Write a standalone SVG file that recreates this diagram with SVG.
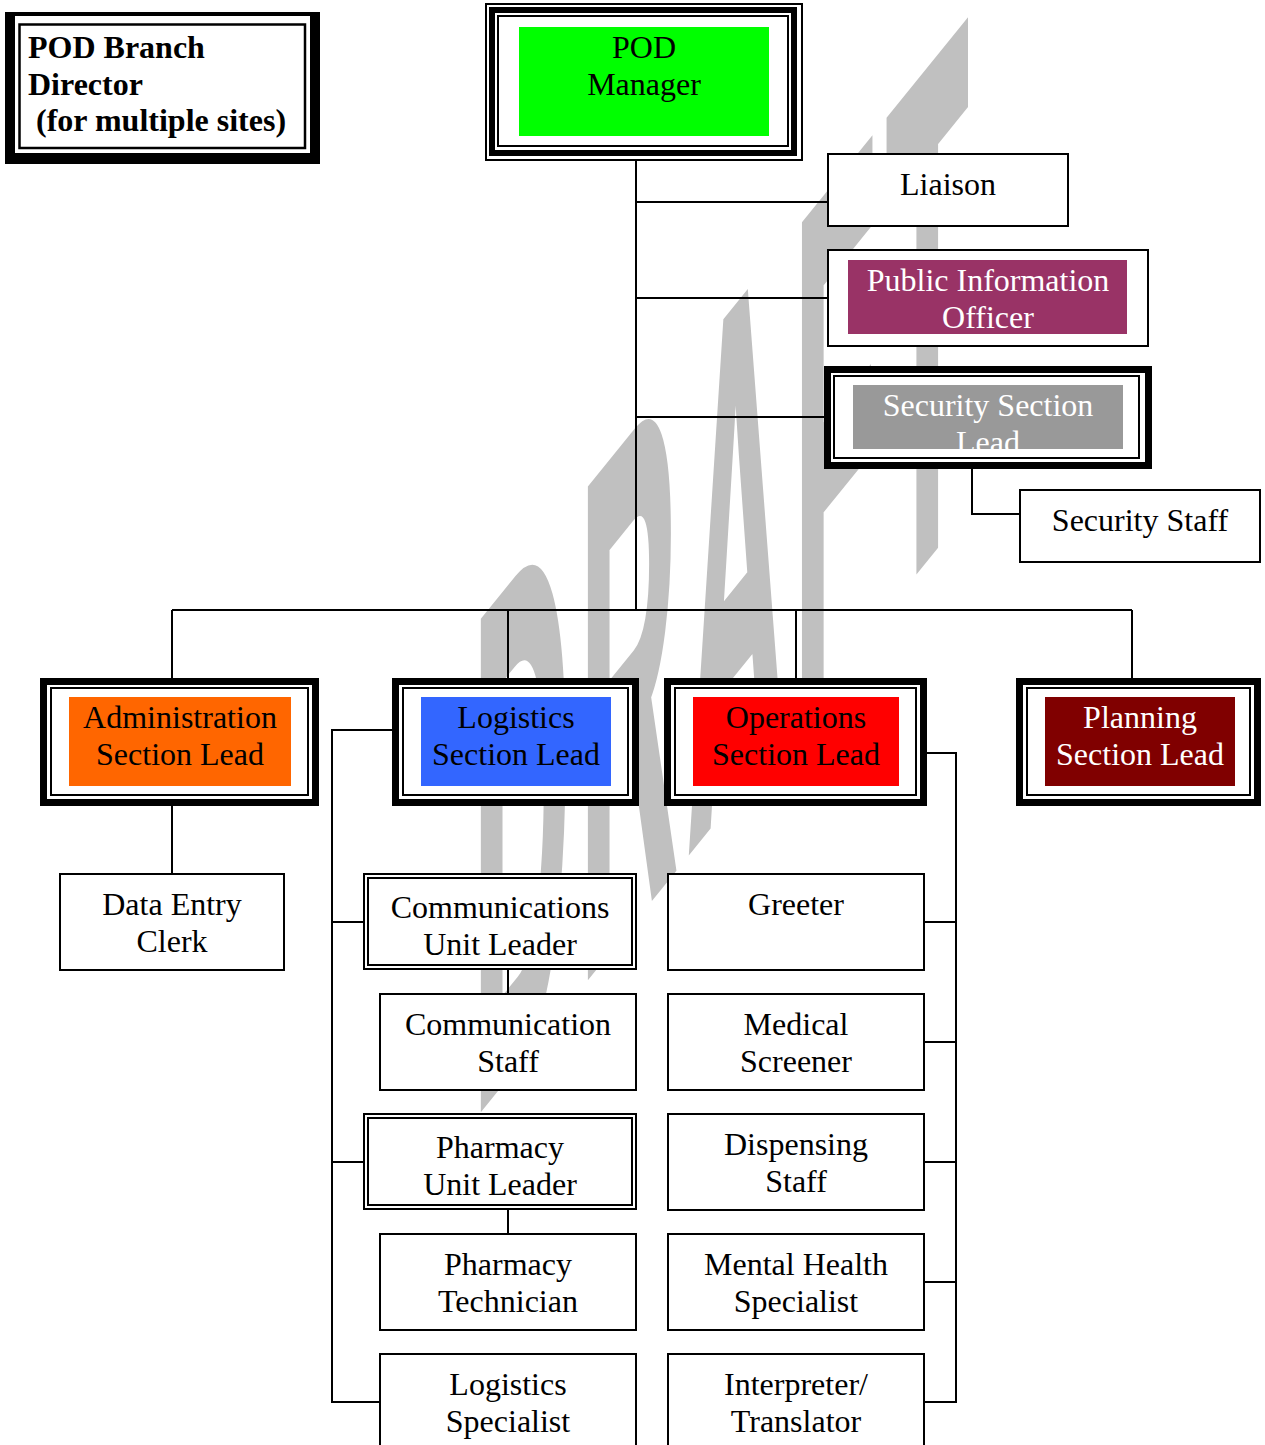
<svg xmlns="http://www.w3.org/2000/svg" width="1265" height="1445" viewBox="0 0 1265 1445">
<defs>
<style>
text{font-family:"Liberation Serif","Times New Roman",serif;font-size:32px;text-anchor:middle;fill:#000}
.w{fill:#fff}
.b{font-weight:bold;text-anchor:start}
.box{fill:#fff;stroke:#000;stroke-width:2}
.thin{fill:none;stroke:#000;stroke-width:2}
.thick{fill:#fff;stroke:#000;stroke-width:7}
.mid{fill:none;stroke:#000;stroke-width:6}
.con{fill:none;stroke:#000;stroke-width:2}
.wm{font-family:"Liberation Sans",Arial,sans-serif;font-weight:bold;font-size:700px;fill:#c0c0c0;stroke:#c0c0c0;stroke-width:12;text-anchor:start}
</style>
<clipPath id="secclip"><rect x="853" y="385" width="270" height="64"/></clipPath>
</defs>
<rect width="1265" height="1445" fill="#fff"/>
<g id="watermark">
<text class="wm" letter-spacing="52" transform="translate(473,1116) skewY(-51) scale(0.192,1)">DRAFT</text>
</g>
<g id="connectors">
<path class="con" d="M636,160V610M636,202H828M636,298H828M636,417H826M972,469V514H1020"/>
<path class="con" d="M172,610H1132M172,610V680M508,610V680M796,610V680M1132,610V680"/>
<path class="con" d="M172,806V874M392,730H332V1402H380M332,922H363M332,1162H363M508,970V993M508,1210V1233"/>
<path class="con" d="M927,753H956V1402H924M956,922H924M956,1042H924M956,1162H924M956,1282H924"/>
</g>
<g id="branch-director">
<rect x="5" y="12" width="315" height="152" fill="#000"/>
<rect x="15" y="16" width="295" height="137" fill="#fff"/>
<rect x="19.5" y="24.5" width="285.5" height="123.5" fill="none" stroke="#000" stroke-width="2.5"/>
<text class="b" x="28" y="58">POD Branch</text>
<text class="b" x="28" y="95">Director</text>
<text class="b" x="36" y="131">(for multiple sites)</text>
</g>
<g id="pod-manager">
<rect class="box" x="486" y="4" width="316" height="156"/>
<rect class="mid" x="492" y="10" width="302" height="143"/>
<rect class="thin" x="498" y="16" width="290" height="130"/>
<rect x="519" y="27" width="250" height="109" fill="#00ff00"/>
<text x="644" y="58">POD</text>
<text x="644" y="95">Manager</text>
</g>
<g id="liaison">
<rect class="box" x="828" y="154" width="240" height="72"/>
<text x="948" y="195">Liaison</text>
</g>
<g id="pio">
<rect class="box" x="828" y="250" width="320" height="96"/>
<rect x="848" y="260" width="279" height="74" fill="#993366"/>
<text class="w" x="988" y="291">Public Information</text>
<text class="w" x="988" y="328">Officer</text>
</g>
<g id="security-lead">
<rect class="thick" x="827.5" y="369.5" width="321" height="96"/>
<rect class="thin" x="834" y="376" width="305" height="82"/>
<rect x="853" y="385" width="270" height="64" fill="#999999"/>
<g clip-path="url(#secclip)">
<text class="w" x="988" y="416">Security Section</text>
<text class="w" x="988" y="453">Lead</text>
</g>
</g>
<g id="security-staff">
<rect class="box" x="1020" y="490" width="240" height="72"/>
<text x="1140" y="531">Security Staff</text>
</g>
<g id="admin-lead">
<rect class="thick" x="43.5" y="681.5" width="272" height="121"/>
<rect class="thin" x="51" y="688" width="257" height="107"/>
<rect x="69" y="697" width="222" height="89" fill="#ff6600"/>
<text x="180" y="728">Administration</text>
<text x="180" y="765">Section Lead</text>
</g>
<g id="logistics-lead">
<rect class="thick" x="395.5" y="681.5" width="240" height="121"/>
<rect class="thin" x="403" y="688" width="225" height="107"/>
<rect x="421" y="697" width="190" height="89" fill="#3366ff"/>
<text x="516" y="728">Logistics</text>
<text x="516" y="765">Section Lead</text>
</g>
<g id="operations-lead">
<rect class="thick" x="667.5" y="681.5" width="256" height="121"/>
<rect class="thin" x="675" y="688" width="241" height="107"/>
<rect x="693" y="697" width="206" height="89" fill="#ff0000"/>
<text x="796" y="728">Operations</text>
<text x="796" y="765">Section Lead</text>
</g>
<g id="planning-lead">
<rect class="thick" x="1019.5" y="681.5" width="238" height="121"/>
<rect class="thin" x="1027" y="688" width="223" height="107"/>
<rect x="1045" y="697" width="190" height="89" fill="#800000"/>
<text class="w" x="1140" y="728">Planning</text>
<text class="w" x="1140" y="765">Section Lead</text>
</g>
<g id="data-entry">
<rect class="box" x="60" y="874" width="224" height="96"/>
<text x="172" y="915">Data Entry</text>
<text x="172" y="952">Clerk</text>
</g>
<g id="comm-unit-leader">
<rect class="box" x="364" y="874" width="272" height="95"/>
<rect class="thin" x="368" y="878" width="264" height="87"/>
<text x="500" y="918">Communications</text>
<text x="500" y="955">Unit Leader</text>
</g>
<g id="comm-staff">
<rect class="box" x="380" y="994" width="256" height="96"/>
<text x="508" y="1035">Communication</text>
<text x="508" y="1072">Staff</text>
</g>
<g id="pharm-unit-leader">
<rect class="box" x="364" y="1114" width="272" height="95"/>
<rect class="thin" x="368" y="1118" width="264" height="87"/>
<text x="500" y="1158">Pharmacy</text>
<text x="500" y="1195">Unit Leader</text>
</g>
<g id="pharm-tech">
<rect class="box" x="380" y="1234" width="256" height="96"/>
<text x="508" y="1275">Pharmacy</text>
<text x="508" y="1312">Technician</text>
</g>
<g id="logistics-specialist">
<rect class="box" x="380" y="1354" width="256" height="100"/>
<text x="508" y="1395">Logistics</text>
<text x="508" y="1432">Specialist</text>
</g>
<g id="greeter">
<rect class="box" x="668" y="874" width="256" height="96"/>
<text x="796" y="915">Greeter</text>
</g>
<g id="medical-screener">
<rect class="box" x="668" y="994" width="256" height="96"/>
<text x="796" y="1035">Medical</text>
<text x="796" y="1072">Screener</text>
</g>
<g id="dispensing-staff">
<rect class="box" x="668" y="1114" width="256" height="96"/>
<text x="796" y="1155">Dispensing</text>
<text x="796" y="1192">Staff</text>
</g>
<g id="mental-health">
<rect class="box" x="668" y="1234" width="256" height="96"/>
<text x="796" y="1275">Mental Health</text>
<text x="796" y="1312">Specialist</text>
</g>
<g id="interpreter">
<rect class="box" x="668" y="1354" width="256" height="100"/>
<text x="796" y="1395">Interpreter/</text>
<text x="796" y="1432">Translator</text>
</g>
</svg>
